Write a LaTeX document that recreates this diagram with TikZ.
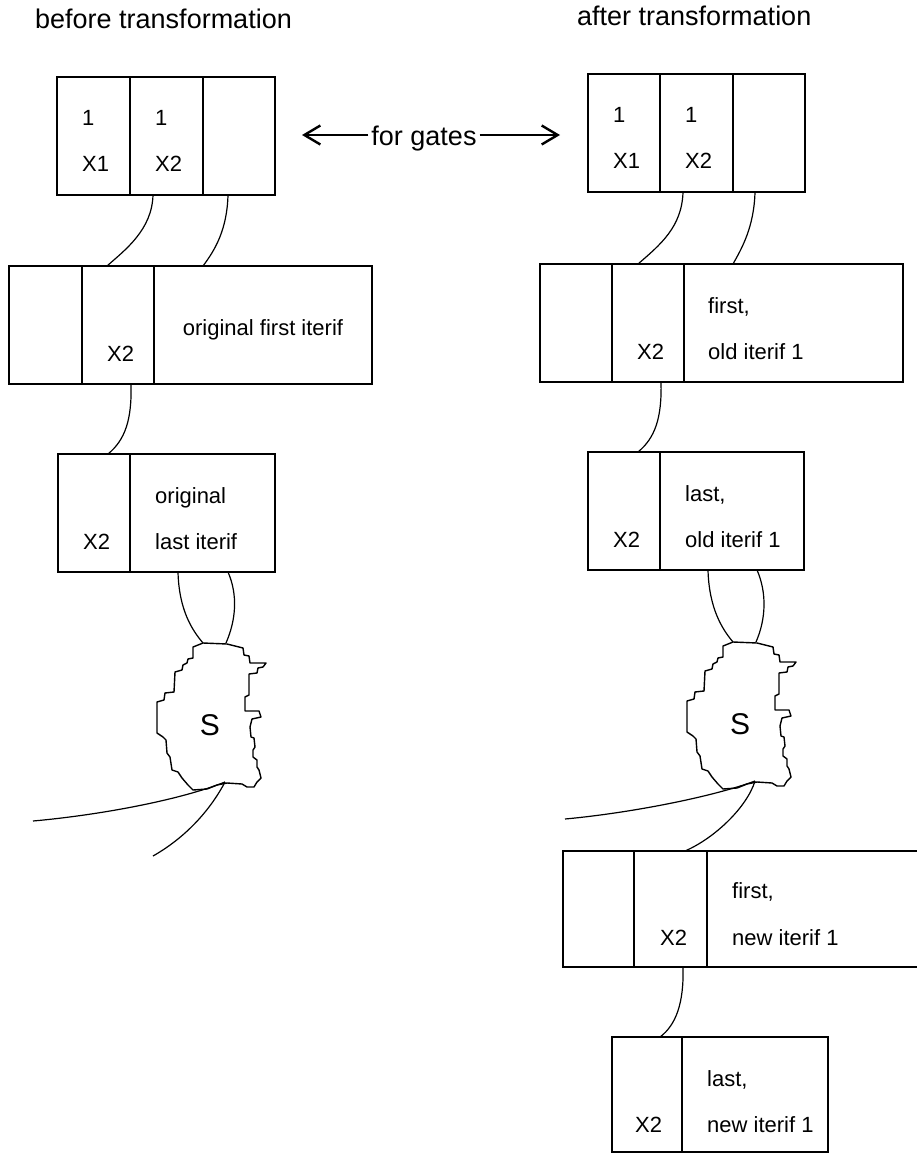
\documentclass[tikz,border=0pt]{standalone}
\usepackage{fontspec}
\setmainfont{Liberation Sans}
\usetikzlibrary{arrows.meta,positioning}

\newcommand{\cellfont}{\fontsize{22}{26}\selectfont}
\newcommand{\headfont}{\fontsize{27}{32}\selectfont}

\begin{document}
\begin{tikzpicture}[
  x=1pt, y=-1pt,
  cell/.style={draw, line width=1.7pt, outer sep=0pt, inner sep=0pt, minimum height=118pt},
  txt/.style={anchor=base west, inner sep=0pt, font=\cellfont},
  head/.style={anchor=base west, inner sep=0pt, font=\headfont},
  link/.style={line width=1.2pt},
  gate/.style={line width=1.6pt},
  >={Straight Barb[length=16pt,width=19pt,line width=2.4pt]},
  blob/.pic={
    \draw[line width=1.4pt, line join=round] (-7,-82) -- (17,-81) -- (29,-78) -- (33,-77) -- (34,-70) -- (39,-69)
      -- (40,-62) -- (56,-62) -- (53,-58) -- (48,-57) -- (47,-52) -- (39,-51) -- (39,-30) -- (35,-28)
      -- (35,-14) -- (49,-14) -- (51,-8) -- (42,-6) -- (40,2) -- (41,12) -- (44,13) -- (45,22) -- (43,25)
      -- (43,32) -- (47,35) -- (47,42) -- (49,45) -- (51,53) -- (47,57) -- (44,62) -- (37,62) -- (32,59)
      -- (17,58) -- (7,60) -- (-3,64) -- (-17,65) -- (-22,60) -- (-28,53) -- (-32,47) -- (-38,45)
      -- (-40,32) -- (-43,28) -- (-44,15) -- (-47,12) -- (-53,8) -- (-53,-23) -- (-46,-25) -- (-45,-32)
      -- (-36,-33) -- (-35,-53) -- (-28,-55) -- (-27,-60) -- (-23,-62) -- (-22,-66) -- (-17,-67)
      -- (-17,-78) -- cycle;
    \node[font=\fontsize{30}{34}\selectfont, inner sep=0pt] (-s) at (0,0) {S};
    \coordinate (-t1) at (-7,-82);
    \coordinate (-t2) at (16,-82);
    \coordinate (-b) at (15,57);
  }
]
\useasboundingbox (0,0) rectangle (917,1155);
\clip (0,0) rectangle (917,1155);

\node[head] (before) at (35,29) {before transformation};
\node[head] (after) at (577,26) {after transformation};

% before
\node[cell, minimum width=73pt, anchor=north west] (L1a) at (57,77) {};
\node[cell, minimum width=73pt, right=0pt of L1a] (L1b) {};
\node[cell, minimum width=72pt, right=0pt of L1b] (L1c) {};
\node[txt] (L1a1) at ([shift={(25,49)}]L1a.north west) {1};
\node[txt] (L1a2) at ([shift={(25,95)}]L1a.north west) {X1};
\node[txt] (L1b1) at ([shift={(25,49)}]L1b.north west) {1};
\node[txt] (L1b2) at ([shift={(25,95)}]L1b.north west) {X2};

\node[cell, minimum width=73pt, anchor=north west] (L2a) at (9,266) {};
\node[cell, minimum width=72pt, right=0pt of L2a] (L2b) {};
\node[cell, minimum width=218pt, right=0pt of L2b] (L2c) {};
\node[txt] (L2b2) at ([shift={(25,95)}]L2b.north west) {X2};
\node[txt, anchor=base] (L2c1) at ([shift={(0,10)}]L2c.center) {original first iterif};

\node[cell, minimum width=72pt, anchor=north west] (L3a) at (58,454) {};
\node[cell, minimum width=145pt, right=0pt of L3a] (L3b) {};
\node[txt] (L3a2) at ([shift={(25,95)}]L3a.north west) {X2};
\node[txt] (L3b1) at ([shift={(25,49)}]L3b.north west) {original};
\node[txt] (L3b2) at ([shift={(25,95)}]L3b.north west) {last iterif};

\pic (SL) at (210,725) {blob};
\coordinate (looseL1) at (33,821);
\coordinate (looseL2) at (153,856);

% after
\node[cell, minimum width=72pt, anchor=north west] (R1a) at (588,74) {};
\node[cell, minimum width=73pt, right=0pt of R1a] (R1b) {};
\node[cell, minimum width=72pt, right=0pt of R1b] (R1c) {};
\node[txt] (R1a1) at ([shift={(25,49)}]R1a.north west) {1};
\node[txt] (R1a2) at ([shift={(25,95)}]R1a.north west) {X1};
\node[txt] (R1b1) at ([shift={(25,49)}]R1b.north west) {1};
\node[txt] (R1b2) at ([shift={(25,95)}]R1b.north west) {X2};

\node[cell, minimum width=72pt, anchor=north west] (R2a) at (540,264) {};
\node[cell, minimum width=72pt, right=0pt of R2a] (R2b) {};
\node[cell, minimum width=219pt, right=0pt of R2b] (R2c) {};
\node[txt] (R2b2) at ([shift={(25,95)}]R2b.north west) {X2};
\node[txt] (R2c1) at ([shift={(24,49)}]R2c.north west) {first,};
\node[txt] (R2c2) at ([shift={(24,95)}]R2c.north west) {old iterif 1};

\node[cell, minimum width=72pt, anchor=north west] (R3a) at (588,452) {};
\node[cell, minimum width=144pt, right=0pt of R3a] (R3b) {};
\node[txt] (R3a2) at ([shift={(25,95)}]R3a.north west) {X2};
\node[txt] (R3b1) at ([shift={(25,49)}]R3b.north west) {last,};
\node[txt] (R3b2) at ([shift={(25,95)}]R3b.north west) {old iterif 1};

\pic (SR) at (740,724) {blob};
\coordinate (looseR1) at (565,819);

\node[cell, minimum height=116pt, minimum width=71pt, anchor=north west] (R4a) at (563,851) {};
\node[cell, minimum height=116pt, minimum width=73pt, right=0pt of R4a] (R4b) {};
\node[cell, minimum height=116pt, minimum width=230pt, right=0pt of R4b] (R4c) {};
\node[txt] (R4b2) at ([shift={(26,94)}]R4b.north west) {X2};
\node[txt] (R4c1) at ([shift={(25,47)}]R4c.north west) {first,};
\node[txt] (R4c2) at ([shift={(25,94)}]R4c.north west) {new iterif 1};

\node[cell, minimum height=115pt, minimum width=70pt, anchor=north west] (R5a) at (612,1037) {};
\node[cell, minimum height=115pt, minimum width=146pt, right=0pt of R5a] (R5b) {};
\node[txt] (R5a2) at ([shift={(23,95)}]R5a.north west) {X2};
\node[txt] (R5b1) at ([shift={(25,49)}]R5b.north west) {last,};
\node[txt] (R5b2) at ([shift={(25,95)}]R5b.north west) {new iterif 1};

% for gates
\node[font=\headfont, inner xsep=3pt, inner ysep=0pt, text height=22pt, text depth=0pt] (gates) at (424,135) {for gates};
\coordinate (gateL) at (302,135);
\coordinate (gateR) at (560,135);
\draw[gate, ->] (gates) -- (gateL);
\draw[gate, ->] (gates) -- (gateR);

% links
\draw[link] ([xshift=-13.5pt]L1b.south) .. controls +(-1,35) and +(18,-16) .. ([xshift=-11pt]L2b.north);
\draw[link] ([xshift=-11pt]L1c.south) .. controls +(-1,35) and +(12,-16) .. ([xshift=49pt]L2c.north west);
\draw[link] ([xshift=13pt]L2b.south) .. controls +(1,36) and +(17,-14) .. ([xshift=14pt]L3a.north);
\draw[link] ([xshift=-24.5pt]L3b.south) .. controls +(1,38) and +(-11,-13) .. (SL-t1);
\draw[link] ([xshift=25.5pt]L3b.south) .. controls +(10,23) and +(10,-23) .. (SL-t2);
\draw[link] (looseL1) .. controls +(67,-6) and +(-45,18) .. (SL-b);
\draw[link] (SL-b) .. controls +(-12,23) and +(37,-21) .. (looseL2);

\draw[link] ([xshift=-13.5pt]R1b.south) .. controls +(-1,35) and +(22,-19) .. ([xshift=-10pt]R2b.north);
\draw[link] ([xshift=-14pt]R1c.south) .. controls +(-1,35) and +(9,-16) .. ([xshift=49pt]R2c.north west);
\draw[link] ([xshift=13pt]R2b.south) .. controls +(1,36) and +(17,-14) .. ([xshift=14pt]R3a.north);
\draw[link] ([xshift=-24pt]R3b.south) .. controls +(1,38) and +(-11,-13) .. (SR-t1);
\draw[link] ([xshift=25pt]R3b.south) .. controls +(10,23) and +(10,-23) .. (SR-t2);
\draw[link] (looseR1) .. controls +(65,-6) and +(-43,16) .. (SR-b);
\draw[link] (SR-b) .. controls +(-8,26) and +(30,-13) .. ([xshift=14.5pt]R4b.north);
\draw[link] ([xshift=12.5pt]R4b.south) .. controls +(1,36) and +(16,-12) .. ([xshift=13pt]R5a.north);
\end{tikzpicture}
\end{document}
